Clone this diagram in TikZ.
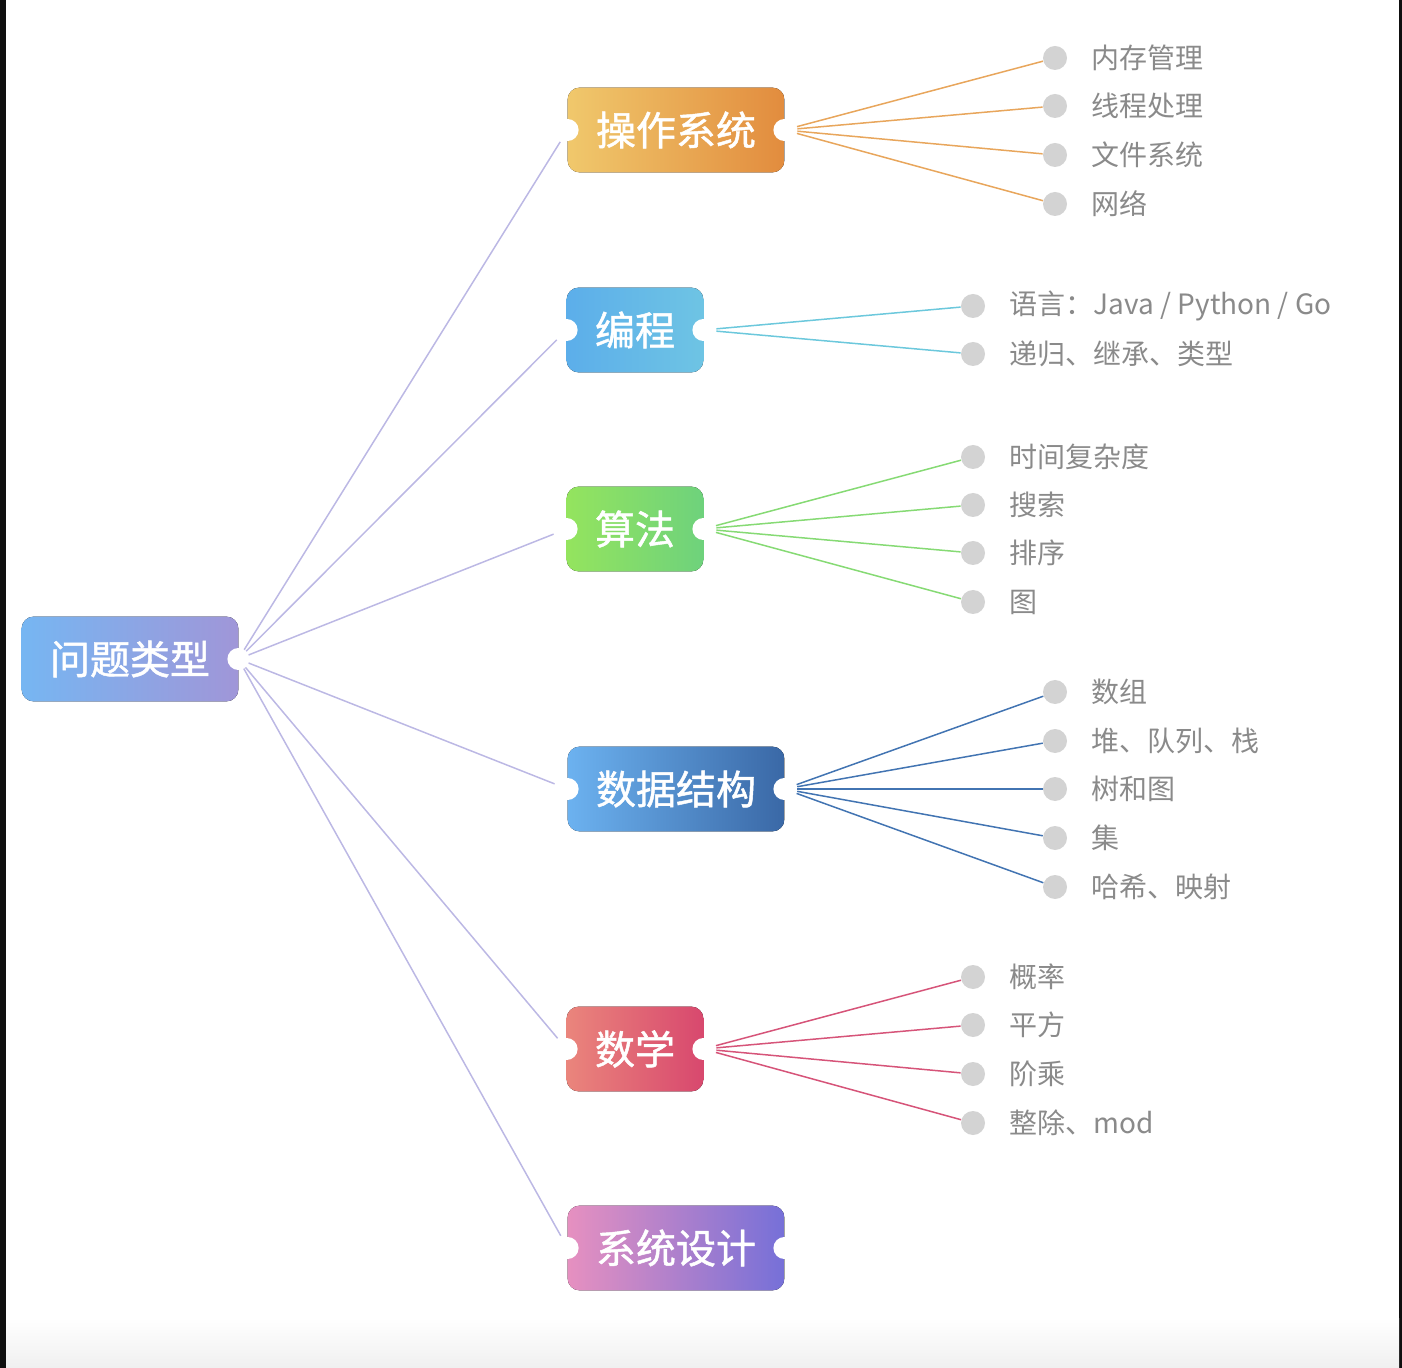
\documentclass[tikz,border=0pt]{standalone}
\usepackage{fontspec}
\setmainfont{Noto Sans CJK SC}
\newfontfamily\catfont[FakeBold=1.2]{Noto Sans CJK SC}
\usetikzlibrary{positioning,backgrounds}

\definecolor{rootA}{HTML}{76B6F2}
\definecolor{rootB}{HTML}{A096D8}
\definecolor{osA}{HTML}{F0C86C}
\definecolor{osB}{HTML}{E28C3E}
\definecolor{codeA}{HTML}{5CAEEA}
\definecolor{codeB}{HTML}{6EC4E4}
\definecolor{algoA}{HTML}{94E45E}
\definecolor{algoB}{HTML}{6ED27C}
\definecolor{dsA}{HTML}{6CB2F0}
\definecolor{dsB}{HTML}{3A68A6}
\definecolor{mathA}{HTML}{EA857C}
\definecolor{mathB}{HTML}{D8486E}
\definecolor{sysA}{HTML}{E690C0}
\definecolor{sysB}{HTML}{7670D8}
\definecolor{rootline}{HTML}{BCB8E4}
\definecolor{osline}{HTML}{E8A65C}
\definecolor{codeline}{HTML}{6CC8DC}
\definecolor{algoline}{HTML}{86DA74}
\definecolor{dsline}{HTML}{4274B2}
\definecolor{mathline}{HTML}{D65479}
\definecolor{dotgray}{HTML}{D3D3D3}
\definecolor{leafgray}{HTML}{8A8A8A}

% ticket background with a notch on each side
\newcommand{\ticket}[3]{%
  \fill[left color=#2,right color=#3,rounded corners=6pt] (#1.north west) rectangle (#1.south east);
  \fill[white] (#1.west) circle (5.5pt);
  \fill[white] (#1.east) circle (5.5pt);
}

\begin{document}
\begin{tikzpicture}[
  x=0.5pt,y=-0.5pt,
  node distance=12pt,
  cat/.style={text=white,font=\catfont\fontsize{20}{24}\selectfont,inner xsep=14pt,inner ysep=0pt,minimum height=42pt},
  dot/.style={circle,fill=dotgray,minimum size=12pt,inner sep=0pt},
  leaf/.style={text=leafgray,font=\fontsize{14}{17}\selectfont,inner sep=0pt},
  rootlink/.style={draw=rootline,line width=0.75pt,shorten <=5pt,shorten >=7pt},
  link/.style={line width=0.75pt,shorten <=6.5pt}
]
  \useasboundingbox (0,0) rectangle (1402,1368);
  % screenshot frame
  \fill[black!94] (0,0) rectangle (6,1368);
  \fill[black!94] (1399,0) rectangle (1402,1368);
  \shade[top color=white,bottom color=black!6] (6,1318) rectangle (1399,1368);

  \node[cat] (root) at (130,659) {问题类型};
  \node[cat] (os) at (676,130) {操作系统};
  \node[cat] (code) at (635,330) {编程};
  \node[cat] (algo) at (635,529) {算法};
  \node[cat] (ds) at (676,789) {数据结构};
  \node[cat] (math) at (635,1049) {数学};
  \node[cat] (sys) at (676,1248) {系统设计};

  % 操作系统
  \node[dot] (mem) at (1055,58) {};
  \node[leaf,right=of mem] (memt) {内存管理};
  \node[dot] (thread) at (1055,106) {};
  \node[leaf,right=of thread] (threadt) {线程处理};
  \node[dot] (fs) at (1055,155) {};
  \node[leaf,right=of fs] (fst) {文件系统};
  \node[dot] (net) at (1055,204) {};
  \node[leaf,right=of net] (nett) {网络};
  % 编程
  \node[dot] (lang) at (973,306) {};
  \node[leaf,right=of lang] (langt) {语言：Java / Python / Go};
  \node[dot] (rec) at (973,354) {};
  \node[leaf,right=of rec] (rect) {递归、继承、类型};
  % 算法
  \node[dot] (cplx) at (973,457) {};
  \node[leaf,right=of cplx] (cplxt) {时间复杂度};
  \node[dot] (srch) at (973,505) {};
  \node[leaf,right=of srch] (srcht) {搜索};
  \node[dot] (sort) at (973,553) {};
  \node[leaf,right=of sort] (sortt) {排序};
  \node[dot] (graph) at (973,602) {};
  \node[leaf,right=of graph] (grapht) {图};
  % 数据结构
  \node[dot] (arr) at (1055,692) {};
  \node[leaf,right=of arr] (arrt) {数组};
  \node[dot] (heap) at (1055,741) {};
  \node[leaf,right=of heap] (heapt) {堆、队列、栈};
  \node[dot] (tree) at (1055,789) {};
  \node[leaf,right=of tree] (treet) {树和图};
  \node[dot] (set) at (1055,838) {};
  \node[leaf,right=of set] (sett) {集};
  \node[dot] (hash) at (1055,887) {};
  \node[leaf,right=of hash] (hasht) {哈希、映射};
  % 数学
  \node[dot] (prob) at (973,977) {};
  \node[leaf,right=of prob] (probt) {概率};
  \node[dot] (sq) at (973,1025) {};
  \node[leaf,right=of sq] (sqt) {平方};
  \node[dot] (fact) at (973,1074) {};
  \node[leaf,right=of fact] (factt) {阶乘};
  \node[dot] (divm) at (973,1123) {};
  \node[leaf,right=of divm] (divmt) {整除、mod};

  \begin{scope}[on background layer]
    \draw[rootlink] (root.east) -- (os.west);
    \draw[rootlink] (root.east) -- (code.west);
    \draw[rootlink] (root.east) -- (algo.west);
    \draw[rootlink] (root.east) -- (ds.west);
    \draw[rootlink] (root.east) -- (math.west);
    \draw[rootlink] (root.east) -- (sys.west);

    \draw[link,osline] (os.east) -- (mem);
    \draw[link,osline] (os.east) -- (thread);
    \draw[link,osline] (os.east) -- (fs);
    \draw[link,osline] (os.east) -- (net);
    \draw[link,codeline] (code.east) -- (lang);
    \draw[link,codeline] (code.east) -- (rec);
    \draw[link,algoline] (algo.east) -- (cplx);
    \draw[link,algoline] (algo.east) -- (srch);
    \draw[link,algoline] (algo.east) -- (sort);
    \draw[link,algoline] (algo.east) -- (graph);
    \draw[link,dsline] (ds.east) -- (arr);
    \draw[link,dsline] (ds.east) -- (heap);
    \draw[link,dsline] (ds.east) -- (tree);
    \draw[link,dsline] (ds.east) -- (set);
    \draw[link,dsline] (ds.east) -- (hash);
    \draw[link,mathline] (math.east) -- (prob);
    \draw[link,mathline] (math.east) -- (sq);
    \draw[link,mathline] (math.east) -- (fact);
    \draw[link,mathline] (math.east) -- (divm);

    \fill[left color=rootA,right color=rootB,rounded corners=6pt] (root.north west) rectangle (root.south east);
    \fill[white] (root.east) circle (5.5pt);
    \ticket{os}{osA}{osB}
    \ticket{code}{codeA}{codeB}
    \ticket{algo}{algoA}{algoB}
    \ticket{ds}{dsA}{dsB}
    \ticket{math}{mathA}{mathB}
    \ticket{sys}{sysA}{sysB}
  \end{scope}
\end{tikzpicture}
\end{document}
